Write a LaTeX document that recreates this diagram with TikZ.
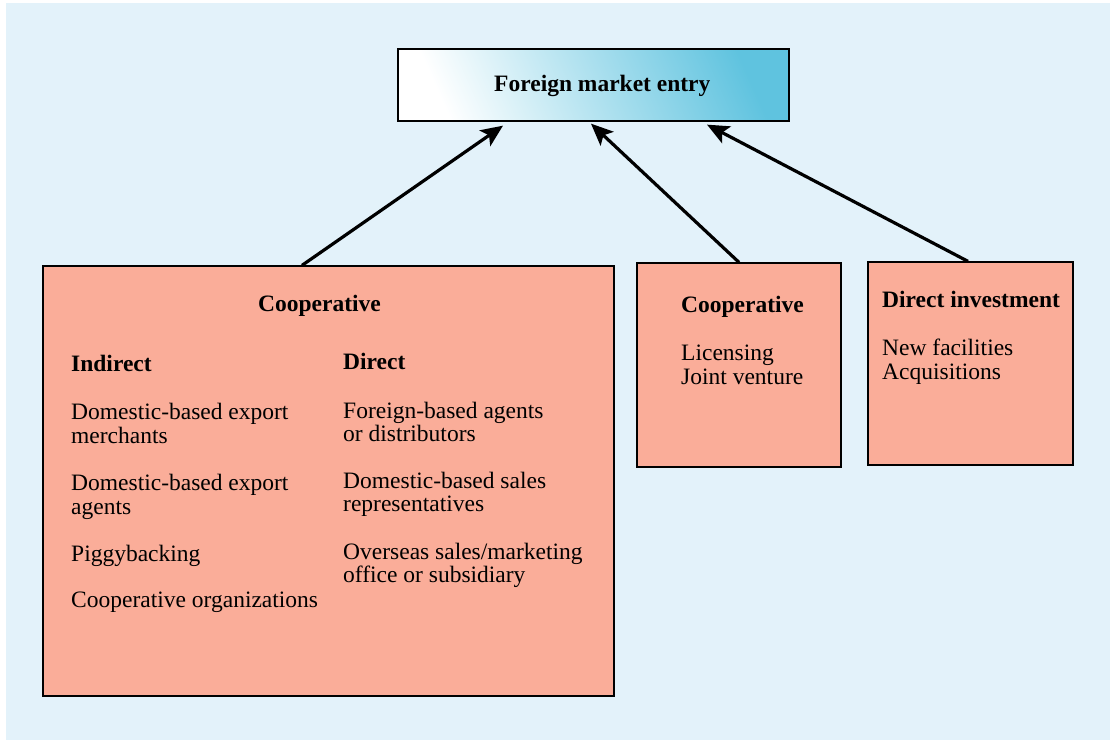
\documentclass[tikz,border=0pt]{standalone}
\usepackage{fontspec}
\setmainfont{Liberation Serif}
\usetikzlibrary{arrows.meta}
\definecolor{bgblue}{RGB}{227,242,250}
\definecolor{salmon}{RGB}{250,173,153}
\definecolor{topblue}{RGB}{95,195,223}
\tikzset{
  box/.style={draw=black, line width=1.3pt, fill=salmon, inner sep=0pt},
  topbox/.style={draw=black, line width=1.3pt, inner sep=0pt, bottom color=white, top color=topblue, shading angle=-66},
  txt/.style={anchor=base west, inner sep=0pt, font=\fontsize{23.5}{24}\selectfont},
  btxt/.style={txt, font=\fontsize{23.5}{24}\selectfont\bfseries},
  arr/.style={line width=3.2pt, -{Stealth[length=22pt,width=19pt,inset=5pt]}}
}
\begin{document}
\begin{tikzpicture}[x=1pt,y=-1pt]
\useasboundingbox (0,0) rectangle (1116,740);
\fill[white] (0,0) rectangle (1116,740);
\fill[bgblue] (6,3) rectangle (1110,740);

% boxes
\node[topbox, minimum width=391pt, minimum height=72pt] (top) at (593.5,85) {};
\node[box, minimum width=571pt, minimum height=430pt] (big) at (328.5,481) {};
\node[box, minimum width=204pt, minimum height=204pt] (mid) at (739,365) {};
\node[box, minimum width=205pt, minimum height=203pt] (right) at (970.5,363.5) {};

% top text
\node[btxt] (ttl) at (494,91) {Foreign market entry};

% big box texts
\node[btxt] (bcoop) at (258,311) {Cooperative};
\node[btxt] (ind) at (71,371) {Indirect};
\node[txt] (i1a) at (71,419) {Domestic-based export};
\node[txt] (i1b) at (71,443) {merchants};
\node[txt] (i2a) at (71,490) {Domestic-based export};
\node[txt] (i2b) at (71,514) {agents};
\node[txt] (i3) at (71,561) {Piggybacking};
\node[txt] (i4) at (71,607) {Cooperative organizations};

\node[btxt] (dir) at (343,369) {Direct};
\node[txt] (d1a) at (343,418) {Foreign-based agents};
\node[txt] (d1b) at (343,441) {or distributors};
\node[txt] (d2a) at (343,488) {Domestic-based sales};
\node[txt] (d2b) at (343,511) {representatives};
\node[txt] (d3a) at (343,559) {Overseas sales/marketing};
\node[txt] (d3b) at (343,582) {office or subsidiary};

% middle box texts
\node[btxt] (mcoop) at (681,312) {Cooperative};
\node[txt] (m1) at (681,360) {Licensing};
\node[txt] (m2) at (681,384) {Joint venture};

% right box texts
\node[btxt] (rdi) at (882,307) {Direct investment};
\node[txt] (r1) at (882,355) {New facilities};
\node[txt] (r2) at (882,379) {Acquisitions};

% arrows
\draw[arr] ([xshift=-26.5pt]big.north) -- ([xshift=-90.5pt,yshift=-4pt]top.south);
\draw[arr] (mid.north) -- ([xshift=-2.5pt,yshift=-2pt]top.south);
\draw[arr] ([xshift=-2.5pt]right.north) -- ([xshift=113.5pt,yshift=-3pt]top.south);
\end{tikzpicture}
\end{document}
